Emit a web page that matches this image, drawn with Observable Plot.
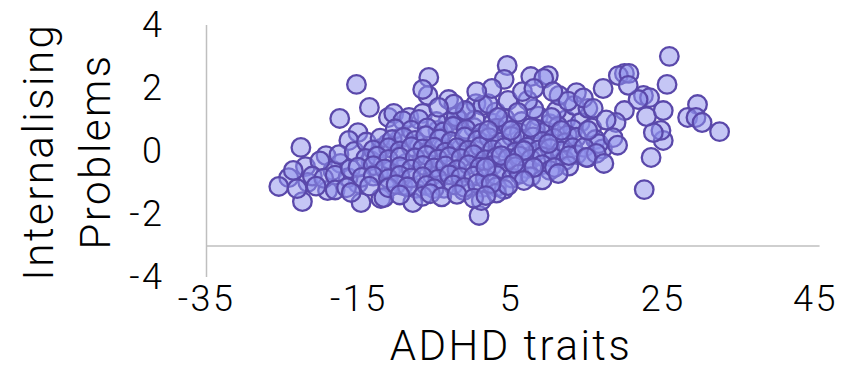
<!DOCTYPE html>
<html><head><meta charset="utf-8">
<script src="https://cdn.jsdelivr.net/npm/d3@7"></script>
<script src="https://cdn.jsdelivr.net/npm/@observablehq/plot@0.6"></script>
<style>body{margin:0;background:#fff}</style>
</head><body><div id="chart"></div>
<script>
const xTicks = [-35, -15, 5, 25, 45];
const yTicks = [-4, -2, 0, 2, 4];
const xTitle = "ADHD traits";
const yTitle = "Internalising\nProblems";

// [ADHD traits, Internalising problems]
const outlyingRight = [[25.8,3.02],[25.5,2.13],[29.5,1.49],[28.2,1.08],[29.3,1.08],[30.1,0.92],[32.4,0.63],[22.5,-1.21],[23.4,-0.19],[25.0,0.35],[24.7,0.67],[23.7,0.6],[22.8,1.11],[25.0,1.3],[22.4,1.78],[23.2,1.71],[21.7,1.65],[19.9,2.48],[19.1,2.41],[20.5,2.48],[20.4,2.1],[17.1,2.0],[19.9,1.3],[18.8,0.92],[18.4,0.44],[15.8,1.37],[15.1,0.67],[16.2,-0.06],[17.2,-0.38],[14.9,-0.19],[17.5,1.0],[19.0,0.2]];
const outlyingLeft = [[-15.3,2.13],[-13.6,1.40],[-17.5,1.05],[-15.1,0.6],[-16.3,0.35],[-22.6,0.13],[-19.3,-0.13],[-22.0,-0.48],[-24.2,-0.83],[-25.5,-1.11],[-22.4,-1.59],[-21.7,-0.98],[-19.1,-1.24],[-17.4,-0.38],[-14.7,-1.62],[-12.1,-1.49],[-15.1,-1.02],[-12.4,-0.70],[-12.1,0.1],[-13.4,-0.29],[-11.1,1.08],[-18.4,-0.6],[-16.4,-0.83],[-20.1,-0.3],[-17.6,-0.1],[-21.1,-0.78],[-19.6,-0.85],[-18.1,-0.75],[-16.1,-0.55],[-23.1,-1.18],[-20.6,-1.1],[-18.1,-1.22],[-16.6,-1.15],[-23.6,-0.6],[-15.6,0.0],[-14.0,0.3],[-16.0,-1.3]];
const centreLeft = [[-5.8,2.35],[-5.9,1.78],[-6.6,1.97],[-3.2,1.65],[-10.4,1.21],[-8.4,1.08],[-6.6,1.21],[-0.9,1.24],[0.4,1.52],[1.3,1.46],[0.1,0.76],[-1.8,0.98],[-3.3,0.92],[-4.6,0.67],[-7.1,0.25],[-9.5,0.44],[-11.2,0.25],[-3.9,0.13],[-1.6,0.1],[0.4,-0.19],[1.4,0.25],[-1.6,-0.51],[-4.2,-0.6],[-6.4,-0.29],[-8.8,-0.38],[-10.8,-0.6],[-9.2,-1.08],[-7.5,-1.17],[-3.8,-1.17],[-1.2,-1.24],[1.3,-1.14],[-11.7,-1.46],[-7.9,-1.62],[0.8,-2.03],[1.1,-1.56],[-5.3,-0.76]];
const centreRight = [[4.5,2.73],[4.1,2.29],[7.6,2.38],[9.9,2.41],[9.3,2.32],[13.6,1.87],[11.3,1.78],[13.3,1.46],[15.1,1.37],[7.2,1.62],[4.6,1.62],[2.0,1.52],[3.3,1.08],[5.9,1.24],[10.3,1.08],[11.6,0.67],[7.6,0.76],[5.0,0.67],[2.0,0.67],[6.7,0.03],[9.9,0.25],[12.6,-0.13],[14.6,0.13],[3.7,-0.13],[1.7,-0.51],[5.4,-0.38],[8.0,-0.51],[10.7,-0.51],[6.7,-0.92],[4.6,-1.08],[2.4,-1.02],[11.2,-0.70],[1.7,-1.40],[15.1,-0.19],[12.5,1.6],[10.5,1.9],[14.5,1.7],[6.5,1.9],[8.0,2.0],[2.5,2.0],[0.5,1.9],[-2.5,1.5],[-4.5,1.4]];
const denseCore = [[-9.2,0.98],[-7.1,1.02],[-4.8,0.95],[-2.2,1.1],[0.3,1.0],[2.6,0.9],[4.2,1.05],[6.4,0.95],[8.6,1.12],[10.1,0.88],[12.2,1.0],[14.1,0.92],[11.0,1.3],[8.0,1.35],[3.0,1.25],[-1.0,1.3],
[-10.2,0.72],[-8.1,0.68],[-6.0,0.75],[-3.9,0.62],[-2.6,0.8],[-0.9,0.7],[1.1,0.58],[3.1,0.74],[4.6,0.82],[6.1,0.6],[8.2,0.72],[9.6,0.64],[11.2,0.8],[13.1,0.7],[15.6,0.75],[12.4,0.52],
[-12.2,0.42],[-10.6,0.38],[-9.1,0.45],[-7.6,0.35],[-6.2,0.5],[-4.4,0.4],[-2.9,0.32],[-1.1,0.46],[0.6,0.36],[2.1,0.44],[3.6,0.3],[5.1,0.48],[6.6,0.38],[7.9,0.46],[9.1,0.32],[10.6,0.42],[12.1,0.28],[13.6,0.45],[16.1,0.38],
[-13.1,0.05],[-11.1,0.12],[-9.6,0.02],[-8.1,0.15],[-6.6,0.08],[-5.1,0.14],[-3.6,-0.02],[-2.1,0.12],[-0.6,0.04],[0.9,0.15],[2.6,0.06],[4.1,0.12],[5.6,-0.01],[7.1,0.14],[8.6,0.05],[10.1,0.1],[11.6,0.02],[13.1,0.12],[17.0,0.08],[16.5,0.25],
[-14.1,-0.22],[-12.6,-0.15],[-11.1,-0.25],[-9.6,-0.18],[-7.6,-0.2],[-6.1,-0.12],[-4.6,-0.24],[-3.1,-0.16],[-1.6,-0.22],[0.1,-0.1],[1.6,-0.26],[3.1,-0.18],[4.6,-0.22],[6.1,-0.14],[7.6,-0.24],[9.1,-0.16],[10.6,-0.2],[12.1,-0.28],[13.6,-0.1],
[-15.1,-0.5],[-13.1,-0.45],[-11.6,-0.55],[-9.6,-0.48],[-8.1,-0.56],[-6.6,-0.44],[-5.1,-0.52],[-3.6,-0.46],[-2.1,-0.58],[-0.6,-0.42],[0.9,-0.5],[2.6,-0.44],[4.1,-0.56],[5.6,-0.48],[7.1,-0.54],[9.1,-0.42],[10.1,-0.6],[12.6,-0.46],
[-14.6,-0.82],[-13.1,-0.78],[-11.1,-0.86],[-9.6,-0.76],[-8.1,-0.84],[-6.6,-0.8],[-4.6,-0.88],[-3.1,-0.74],[-1.6,-0.82],[0.1,-0.78],[1.6,-0.86],[3.1,-0.76],[5.1,-0.84],[6.1,-0.72],[7.6,-0.8],[9.1,-0.9],
[-13.6,-1.1],[-11.1,-1.15],[-10.1,-1.05],[-8.6,-1.12],[-6.1,-1.08],[-5.1,-1.18],[-2.6,-1.06],[-1.1,-1.14],[0.6,-1.02],[3.1,-1.12],[4.1,-1.2],
[-9.6,-1.38],[-6.6,-1.42],[-5.6,-1.34],[-4.1,-1.44],[-2.1,-1.36],[0.1,-1.48],[3.1,-1.32]];

const points = [...outlyingLeft, ...centreLeft, ...denseCore, ...centreRight, ...outlyingRight];

const chart = Plot.plot({
  width: 848, height: 371,
  marginLeft: 206, marginRight: 33, marginTop: 25, marginBottom: 94,
  style: {fontFamily: "Roboto, 'Liberation Sans', sans-serif", fontWeight: 300, fontSize: "36px", letterSpacing: "2.5px", background: "#fff", color: "#000"},
  x: {domain: [-35, 45], ticks: xTicks, tickSize: 0, tickPadding: 8, tickFormat: d => String(d), label: null},
  y: {domain: [-4, 4], ticks: yTicks, tickSize: 0, tickPadding: 42, tickFormat: d => String(d), label: null},
  marks: [
    Plot.ruleX([-35], {y1: -4, y2: 4, stroke: "#bfbfbf", strokeWidth: 1.5}),
    Plot.ruleY([-3], {x1: -35, x2: 45.6, stroke: "#bfbfbf", strokeWidth: 1.5}),
    Plot.dot(points, {x: d => d[0], y: d => d[1], r: 9.3, fill: "#8f92ec", fillOpacity: 0.52, stroke: "#5a48aa", strokeWidth: 2.3}),
    Plot.text([xTitle], {frameAnchor: "bottom", lineAnchor: "middle", dy: 69, fontSize: 42, fontWeight: 300}),
    Plot.text([yTitle], {frameAnchor: "left", textAnchor: "middle", rotate: -90, dx: -143, lineHeight: 1.36, fontSize: 42, fontWeight: 300})
  ]
});
document.getElementById("chart").appendChild(chart);
</script></body></html>
